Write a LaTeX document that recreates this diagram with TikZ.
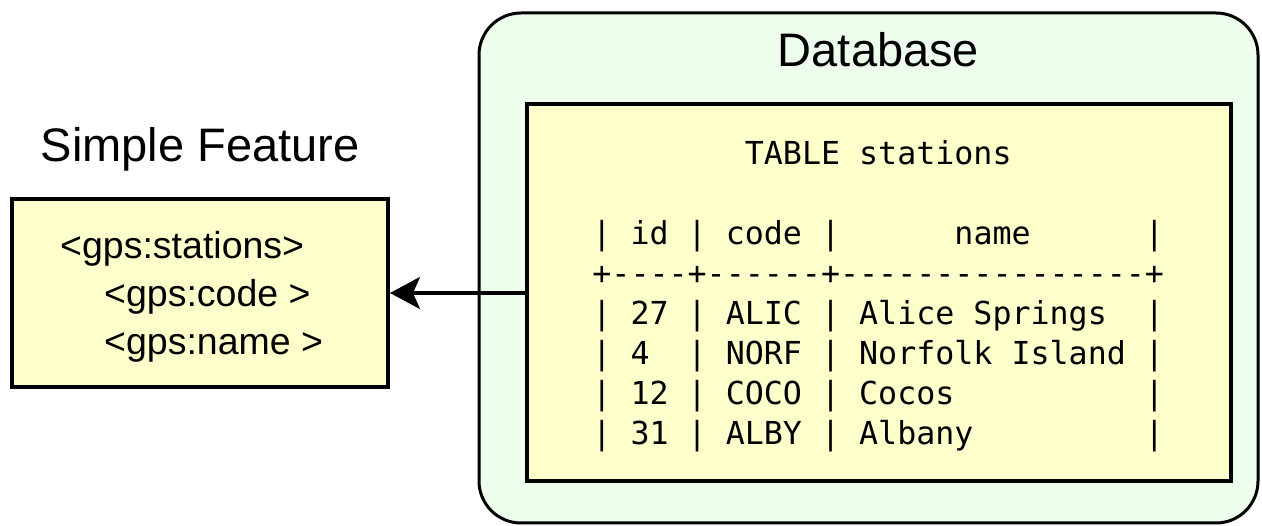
\documentclass[tikz,border=0pt]{standalone}
\usepackage{fontspec}
\setmainfont{Liberation Sans}
\newfontfamily\monof{DejaVu Sans Mono}
\usetikzlibrary{arrows.meta}
\definecolor{boxyellow}{HTML}{FFFFCC}
\definecolor{boxgreen}{HTML}{EEFEEC}
\tikzset{
  titletext/.style={anchor=base, inner sep=0pt, font=\fontsize{47}{56}\selectfont},
  feattext/.style={anchor=base west, inner sep=0pt, font=\fontsize{37.5}{44}\selectfont},
  monotext/.style={anchor=base west, inner sep=0pt, font=\monof\fontsize{31.65}{38}\selectfont},
  yellowbox/.style={draw=black, line width=4pt, fill=boxyellow, rectangle, inner sep=0pt},
  greenbox/.style={draw=black, line width=3pt, fill=boxgreen, rectangle, rounded corners=42pt, inner sep=0pt},
  connector/.style={draw=black, line width=3.5pt, -{Stealth[length=30pt, width=32pt, inset=7pt]}}
}
\begin{document}
\begin{tikzpicture}[x=1pt, y=-1pt]
\useasboundingbox (0,0) rectangle (1262,526);
% database container
\node[greenbox, minimum width=779pt, minimum height=510pt] (db) at (868.5,268) {};
\node[titletext] (dbtitle) at (878.5,67) {Database};
\node[yellowbox, minimum width=704pt, minimum height=377pt] (tbl) at (879,293) {};
% table text
\node[monotext] (t0) at (592.2,164.5) {~~~~~~~~TABLE~stations};
\node[monotext] (t1) at (592.2,244.5) {|~id~|~code~|~~~~~~name~~~~~~|};
\node[monotext] (t2) at (592.2,284.6) {+----+------+----------------+};
\node[monotext] (t3) at (592.2,324.7) {|~27~|~ALIC~|~Alice~Springs~~|};
\node[monotext] (t4) at (592.2,364.8) {|~4~~|~NORF~|~Norfolk~Island~|};
\node[monotext] (t5) at (592.2,404.9) {|~12~|~COCO~|~Cocos~~~~~~~~~~|};
\node[monotext] (t6) at (592.2,445.0) {|~31~|~ALBY~|~Albany~~~~~~~~~|};
% simple feature
\node[titletext] (sftitle) at (200,162) {Simple Feature};
\node[yellowbox, minimum width=376pt, minimum height=188pt] (sf) at (200,293) {};
\node[feattext] (f1) at (60,259) {<gps:stations>};
\node[feattext] (f2) at (104,307) {<gps:code >};
\node[feattext] (f3) at (104,355) {<gps:name >};
% connector
\draw[connector] (tbl.west) -- (sf.east);
\end{tikzpicture}
\end{document}
